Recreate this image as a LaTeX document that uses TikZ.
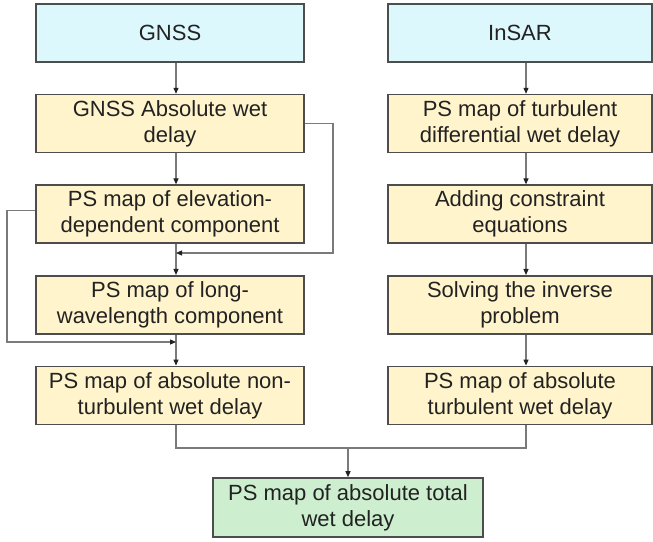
\documentclass[tikz,border=0pt]{standalone}
\usepackage{fontspec}
\setmainfont{Liberation Sans}
\usetikzlibrary{arrows.meta,positioning}
\definecolor{ink}{HTML}{222222}
\definecolor{edgec}{HTML}{4D4D4D}
\definecolor{wirec}{HTML}{7A7A7A}
\definecolor{srcfill}{HTML}{DDF8FD}
\definecolor{stepfill}{HTML}{FFF4CC}
\definecolor{resfill}{HTML}{CDEFCF}
\tikzset{
  box/.style={draw=edgec,line width=1.6pt,minimum height=58pt,minimum width=268pt,
    align=center,font=\fontsize{22}{26}\selectfont,text=ink,inner sep=0pt},
  src/.style={box,fill=srcfill},
  stepbox/.style={box,fill=stepfill},
  res/.style={box,fill=resfill,minimum width=270pt,minimum height=59pt},
  flow/.style={-{Triangle[length=6pt,width=5pt,color=ink]},line width=1.1pt,color=wirec},
  link/.style={line width=1.1pt,color=wirec},
  node distance=31pt
}
\begin{document}
\begin{tikzpicture}[x=1pt,y=1pt]
  \useasboundingbox (0,0) rectangle (653,541);
  % GNSS column
  \node[src] (gnss) at (170,508) {GNSS};
  \node[stepbox,below=of gnss] (gabs) {GNSS Absolute wet\\delay};
  \node[stepbox,below=of gabs] (elev) {PS map of elevation-\\dependent component};
  \node[stepbox,below=of elev] (longw) {PS map of long-\\wavelength component};
  \node[stepbox,below=of longw] (nonturb) {PS map of absolute non-\\turbulent wet delay};
  % InSAR column
  \node[src,minimum width=264pt] (insar) at (520,508) {InSAR};
  \node[stepbox,minimum width=264pt,below=of insar] (turb) {PS map of turbulent\\differential wet delay};
  \node[stepbox,minimum width=264pt,below=of turb] (constr) {Adding constraint\\equations};
  \node[stepbox,minimum width=264pt,below=of constr] (solve) {Solving the inverse\\problem};
  \node[stepbox,minimum width=264pt,below=of solve] (absturb) {PS map of absolute\\turbulent wet delay};
  \node[res] (total) at (348,33.5) {PS map of absolute total\\wet delay};
  \foreach \a/\b in {gnss/gabs,gabs/elev,elev/longw,longw/nonturb,
    insar/turb,turb/constr,constr/solve,solve/absturb}{
    \draw[flow] ([xshift=6pt]\a.south) -- ([xshift=6pt]\b.north);}
  % feedback into the GNSS column
  \coordinate (ja) at (176,288);
  \coordinate (jb) at (176,199);
  \coordinate (fbr) at (333,288);
  \coordinate (fbl) at (7,199);
  \draw[flow] (gabs.east) -| (fbr) -- (ja);
  \draw[flow] ([yshift=4pt]elev.west) -| (fbl) -- (jb);
  % merge
  \coordinate (mg) at (348,93);
  \draw[link] ([xshift=6pt]nonturb.south) |- (mg);
  \draw[link] ([xshift=6pt]absturb.south) |- (mg);
  \draw[flow] (mg) -- (total.north);
\end{tikzpicture}
\end{document}
